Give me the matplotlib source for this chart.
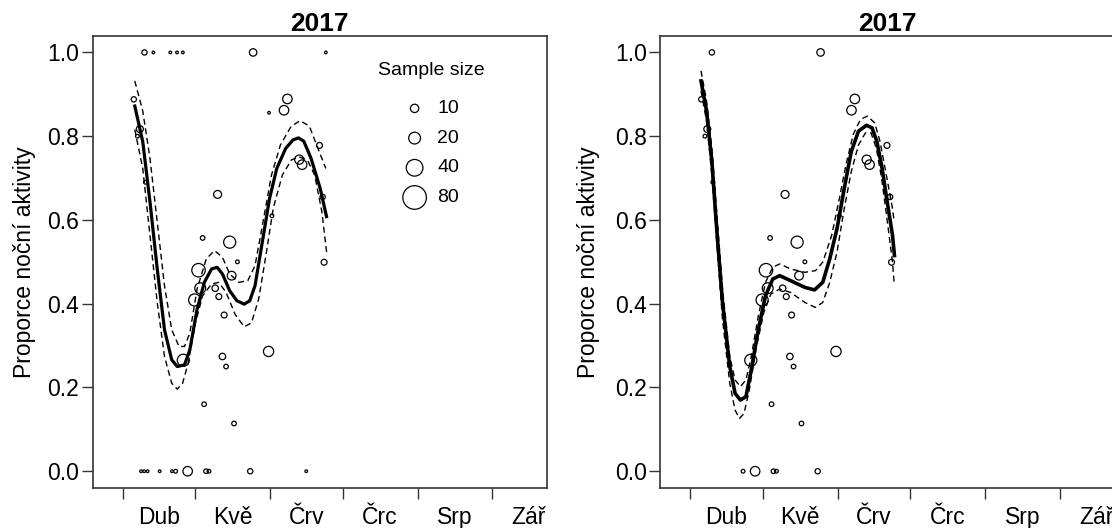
import numpy as np
import matplotlib
matplotlib.use('Agg')
import matplotlib.pyplot as plt

plt.rcParams['font.family'] = ['Liberation Sans', 'DejaVu Sans']

# month starts (day of year, 2017) and Czech month labels
month_start = [91, 121, 152, 182, 213, 244, 274]
month_names = ['Dub', 'Kvě', 'Črv', 'Črc', 'Srp', 'Zář']

# points in both panels: day of year, proportion of night activity, sample size
pt_day = [99.9, 144.9, 95.5, 98.0, 97.0, 100.3, 130.2, 124.0, 135.2, 138.4,
          122.3, 123.0, 120.7, 129.2, 130.7, 136.0, 132.9, 132.2, 133.7, 116.0,
          124.6, 137.0, 151.3, 152.7, 157.7, 159.1, 172.4, 164.0, 165.2, 173.7,
          174.3, 112.8, 117.8, 125.4, 126.6, 143.7]
pt_prop = [1.0, 1.0, 0.888, 0.817, 0.800, 0.690, 0.661, 0.557, 0.547, 0.500,
           0.480, 0.437, 0.409, 0.437, 0.417, 0.467, 0.373, 0.274, 0.250, 0.265,
           0.160, 0.114, 0.286, 0.610, 0.862, 0.889, 0.778, 0.744, 0.732, 0.655,
           0.499, 0.0, 0.0, 0.0, 0.0, 0.0]
pt_n = [4, 8, 4, 7, 2, 2, 9, 3, 21, 2,
        26, 17, 21, 6, 5, 11, 5, 6, 3, 21,
        3, 3, 15, 2, 13, 13, 5, 12, 13, 4,
        5, 2, 13, 3, 2, 4]

# single observations, left panel only
one_day = [103.6, 110.6, 113.4, 115.8, 175.0, 151.5, 98.5, 99.8, 101.2, 106.2, 111.3, 166.9]
one_prop = [1.0, 1.0, 1.0, 1.0, 1.0, 0.856, 0.0, 0.0, 0.0, 0.0, 0.0, 0.0]

# left panel fit and confidence band
fit_day_l = [95.9, 99.2, 102.2, 105.2, 108.2, 111.2, 113.5, 116.5, 118.7, 121.7,
             124.7, 127.7, 130.0, 132.2, 135.2, 138.2, 141.2, 143.5, 145.7, 148.7,
             151.7, 154.7, 158.4, 161.4, 163.7, 165.9, 168.9, 172.7, 175.3]
fit_l = [0.872, 0.787, 0.643, 0.483, 0.338, 0.266, 0.250, 0.254, 0.290, 0.387,
         0.451, 0.483, 0.487, 0.471, 0.431, 0.407, 0.399, 0.407, 0.443, 0.547,
         0.651, 0.723, 0.771, 0.791, 0.796, 0.788, 0.747, 0.675, 0.608]
up_day_l = [95.9, 99.2, 102.2, 105.2, 108.2, 111.2, 114.2, 116.5, 118.7, 121.7,
            125.5, 128.9, 132.2, 135.2, 139.0, 142.7, 145.7, 149.5, 152.5, 156.2,
            160.7, 164.4, 168.2, 171.2, 175.0]
up_l = [0.932, 0.860, 0.747, 0.595, 0.443, 0.338, 0.298, 0.298, 0.330, 0.435,
        0.507, 0.527, 0.511, 0.471, 0.451, 0.455, 0.491, 0.611, 0.707, 0.779,
        0.824, 0.837, 0.824, 0.779, 0.723]
lo_day_l = [95.9, 99.2, 102.2, 105.2, 108.2, 111.2, 113.5, 115.7, 118.0, 121.0,
            124.0, 127.7, 130.7, 133.7, 137.5, 141.2, 144.2, 147.2, 150.2, 153.2,
            157.0, 160.7, 163.7, 167.4, 170.4, 173.4, 175.4]
lo_l = [0.816, 0.723, 0.563, 0.403, 0.274, 0.210, 0.196, 0.210, 0.258, 0.354,
        0.419, 0.447, 0.451, 0.427, 0.374, 0.345, 0.354, 0.411, 0.515, 0.627,
        0.707, 0.743, 0.751, 0.743, 0.707, 0.619, 0.520]

# right panel fit and confidence band
fit_day_r = [95.4, 97.7, 99.9, 102.1, 104.3, 107.3, 109.5, 111.7, 114.0, 116.2,
             119.1, 122.1, 125.1, 128.0, 132.5, 138.4, 142.4, 145.8, 148.7, 151.7,
             154.7, 157.6, 160.6, 163.9, 166.2, 168.2, 170.4, 172.5, 174.7, 175.5]
fit_r = [0.932, 0.860, 0.739, 0.563, 0.403, 0.250, 0.186, 0.170, 0.178, 0.242,
         0.338, 0.419, 0.459, 0.467, 0.455, 0.439, 0.433, 0.451, 0.507, 0.579,
         0.675, 0.763, 0.812, 0.826, 0.820, 0.788, 0.723, 0.643, 0.563, 0.515]
up_day_r = [95.4, 97.7, 99.9, 102.1, 104.3, 107.3, 109.5, 111.7, 114.0, 116.2,
            119.1, 122.1, 125.1, 128.0, 132.5, 138.4, 142.8, 145.8, 149.5, 152.4,
            155.4, 158.4, 161.4, 164.3, 167.3, 169.5, 172.4, 174.7, 175.4]
up_r = [0.956, 0.884, 0.771, 0.603, 0.435, 0.274, 0.218, 0.202, 0.218, 0.274,
        0.370, 0.451, 0.487, 0.495, 0.483, 0.475, 0.479, 0.499, 0.563, 0.643,
        0.731, 0.804, 0.840, 0.848, 0.832, 0.788, 0.699, 0.627, 0.595]
lo_day_r = [95.4, 97.7, 99.9, 102.1, 104.3, 107.3, 109.5, 111.3, 113.2, 115.4,
            118.4, 121.4, 124.3, 128.0, 132.5, 138.4, 142.8, 145.8, 148.7, 151.7,
            154.7, 157.6, 160.6, 163.5, 165.8, 168.0, 170.2, 172.4, 174.7, 175.4]
lo_r = [0.908, 0.836, 0.707, 0.531, 0.362, 0.210, 0.146, 0.126, 0.138, 0.194,
        0.298, 0.379, 0.423, 0.435, 0.427, 0.403, 0.391, 0.403, 0.451, 0.523,
        0.627, 0.715, 0.779, 0.808, 0.808, 0.771, 0.699, 0.603, 0.499, 0.447]

legend_n = [10, 20, 40, 80]

size_k = 3.6  # marker area per observation (pt^2)


def setup(ax, label_x):
    ax.set_xlim(78.4, 266.6)
    ax.set_ylim(-0.04, 1.04)
    ticks = month_start[:-1]
    mids = [(a + b) / 2 for a, b in zip(month_start[:-1], month_start[1:])]
    ax.set_xticks(ticks)
    ax.set_xticklabels([])
    ax.set_xticks(mids, minor=True)
    ax.set_xticklabels(month_names, minor=True)
    ax.tick_params(axis='x', which='major', length=8, width=1, direction='out',
                   color='#333333')
    ax.tick_params(axis='x', which='minor', length=0, pad=13, labelsize=16.5)
    ax.set_yticks([0.0, 0.2, 0.4, 0.6, 0.8, 1.0])
    ax.set_yticklabels(['%.1f' % v for v in [0.0, 0.2, 0.4, 0.6, 0.8, 1.0]])
    ax.tick_params(axis='y', length=8, width=1, pad=1.5, labelsize=16.5,
                   color='#333333')
    for s in ax.spines.values():
        s.set_color('#333333')
        s.set_linewidth(1.2)
    ax.set_title('2017', fontsize=19, fontweight='bold', pad=1.5)
    ax.set_ylabel('Proporce noční aktivity', fontsize=16.5)
    ax.yaxis.set_label_coords(label_x, 0.5)


fig = plt.figure(figsize=(11.12, 5.28), dpi=100)
ax1 = fig.add_axes([0.0832, 0.0758, 0.4087, 0.8566])
ax2 = fig.add_axes([0.5935, 0.0758, 0.4087, 0.8566])

# left panel
ax1.scatter(pt_day, pt_prop, s=[size_k * v for v in pt_n], facecolors='none',
            edgecolors='black', linewidths=0.9, zorder=3)
ax1.scatter(one_day, one_prop, s=size_k, facecolors='none',
            edgecolors='black', linewidths=0.9, zorder=3)
ax1.plot(fit_day_l, fit_l, color='black', lw=2.3, zorder=4)
ax1.plot(up_day_l, up_l, color='black', lw=1.0, dashes=(4.3, 2.7), zorder=4)
ax1.plot(lo_day_l, lo_l, color='black', lw=1.0, dashes=(4.3, 2.7), zorder=4)
setup(ax1, -0.125)

# legend
ax1.text((431 - 92.5) / 454.5, (488 - 75) / 452.3, 'Sample size', fontsize=14,
         ha='center', va='baseline', transform=ax1.transAxes)
for i, nn in enumerate(legend_n):
    yy = (488 - (108.4 + 29.7 * i)) / 452.3
    ax1.scatter([(414.6 - 92.5) / 454.5], [yy], s=size_k * nn, facecolors='none',
                edgecolors='black', linewidths=0.9, transform=ax1.transAxes,
                clip_on=False)
    ax1.text((437.5 - 92.5) / 454.5, yy, str(nn), fontsize=14, ha='left',
             va='center', transform=ax1.transAxes)

# right panel
ax2.scatter(pt_day, pt_prop, s=[size_k * v for v in pt_n], facecolors='none',
            edgecolors='black', linewidths=0.9, zorder=3)
ax2.plot(fit_day_r, fit_r, color='black', lw=2.6, zorder=4)
ax2.plot(up_day_r, up_r, color='black', lw=1.0, dashes=(4.3, 2.7), zorder=4)
ax2.plot(lo_day_r, lo_r, color='black', lw=1.0, dashes=(4.3, 2.7), zorder=4)
setup(ax2, -0.132)

fig.savefig('out.png', dpi=100)
